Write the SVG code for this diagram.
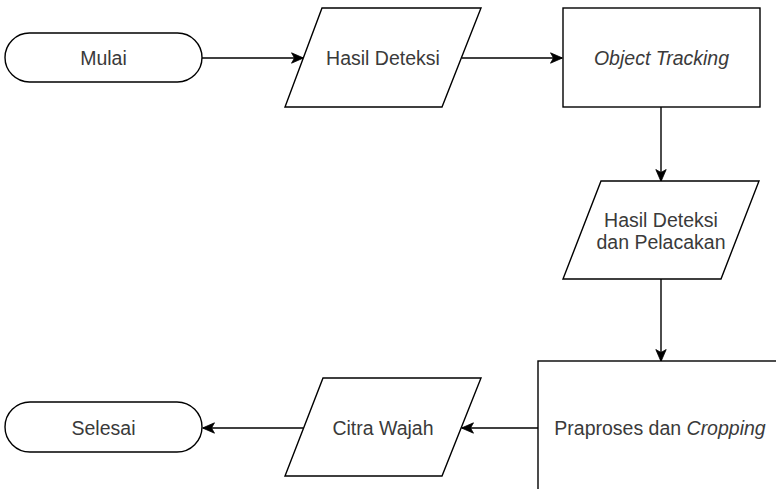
<svg xmlns="http://www.w3.org/2000/svg" width="776" height="489" viewBox="0 0 776 489">
  <style>
    .shape { fill: #ffffff; stroke: #000000; stroke-width: 1.4; }
    .edge { fill: none; stroke: #000000; stroke-width: 1.4; }
    .label { font-family: "Liberation Sans", Arial, sans-serif; font-size: 19.5px; fill: #3a3a3a; text-anchor: middle; }
    .it { font-style: italic; }
  </style>
  <defs>
    <marker id="arrow" viewBox="0 0 13 12" refX="12" refY="6" markerWidth="13" markerHeight="12" markerUnits="userSpaceOnUse" orient="auto">
      <path d="M0.5,0.8 L12.5,6 L0.5,11.2 L3.5,6 Z" fill="#000000" stroke="#000000" stroke-width="0.8"/>
    </marker>
  </defs>
  <rect width="776" height="489" fill="#ffffff"/>

  <g id="connectors">
    <line class="edge" x1="202" y1="58" x2="303" y2="58" marker-end="url(#arrow)"/>
    <line class="edge" x1="462" y1="58" x2="562" y2="58" marker-end="url(#arrow)"/>
    <line class="edge" x1="661" y1="107" x2="661" y2="181" marker-end="url(#arrow)"/>
    <line class="edge" x1="661" y1="279" x2="661" y2="361" marker-end="url(#arrow)"/>
    <line class="edge" x1="538" y1="428" x2="462" y2="428" marker-end="url(#arrow)"/>
    <line class="edge" x1="303" y1="428" x2="203" y2="428" marker-end="url(#arrow)"/>
  </g>

  <g id="mulai">
    <rect class="shape" x="5" y="33" width="197" height="49" rx="24.5" ry="24.5"/>
    <text class="label" x="103.5" y="65">Mulai</text>
  </g>

  <g id="hasil-deteksi">
    <polygon class="shape" points="322,8 481,8 442,107 285,107"/>
    <text class="label" x="383" y="65">Hasil Deteksi</text>
  </g>

  <g id="object-tracking">
    <rect class="shape" x="563" y="8" width="197" height="99"/>
    <text class="label it" x="661.5" y="65">Object Tracking</text>
  </g>

  <g id="hasil-deteksi-pelacakan">
    <polygon class="shape" points="601,181 759,181 721,279 563,279"/>
    <text class="label" x="661" y="226.5">Hasil Deteksi</text>
    <text class="label" x="661" y="249">dan Pelacakan</text>
  </g>

  <g id="praproses">
    <rect class="shape" x="538" y="361" width="245" height="134"/>
    <text class="label" x="660" y="435">Praproses dan <tspan class="it">Cropping</tspan></text>
  </g>

  <g id="citra-wajah">
    <polygon class="shape" points="323,378 481,378 442,476 285,476"/>
    <text class="label" x="383" y="435">Citra Wajah</text>
  </g>

  <g id="selesai">
    <rect class="shape" x="5" y="402" width="197" height="50" rx="25" ry="25"/>
    <text class="label" x="103.5" y="434.5">Selesai</text>
  </g>
</svg>
